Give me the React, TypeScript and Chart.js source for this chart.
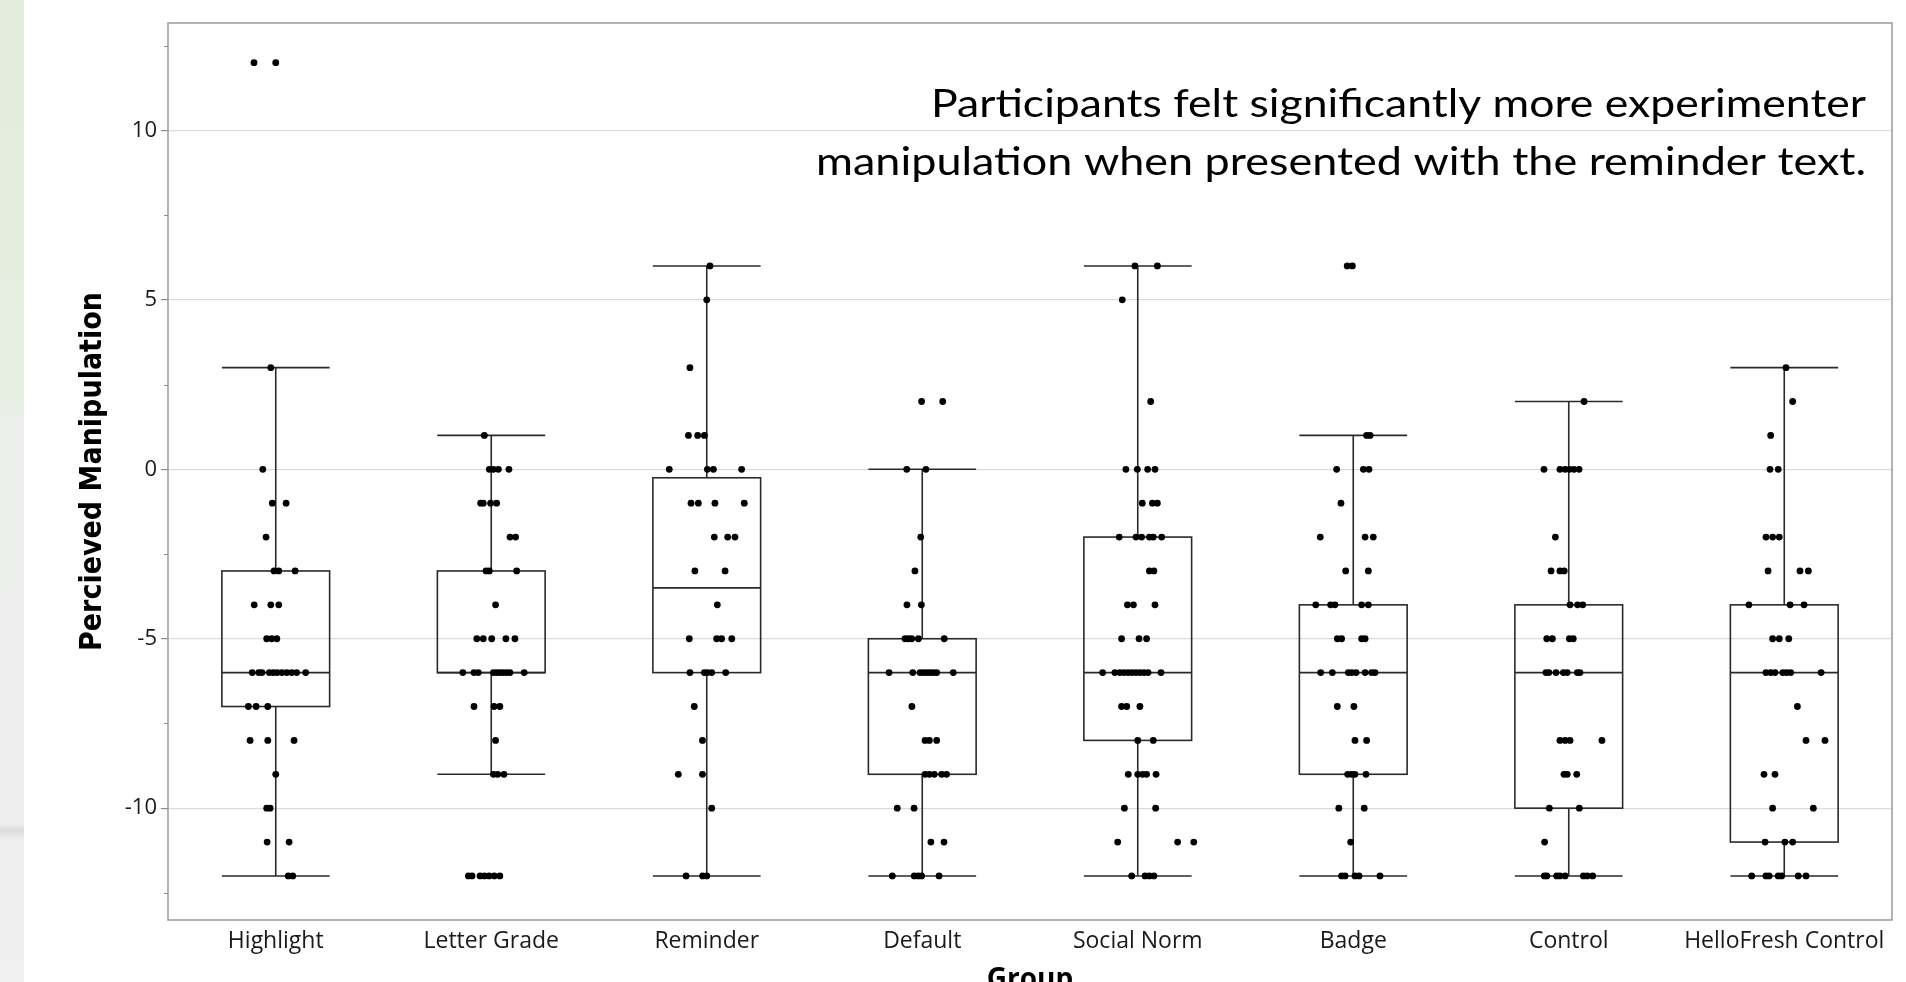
import React, { useEffect, useRef } from 'react';
import { Chart, registerables } from 'chart.js';

Chart.register(...registerables);

// ---------- data ----------
const CATEGORIES = ['Highlight', 'Letter Grade', 'Reminder', 'Default', 'Social Norm', 'Badge', 'Control', 'HelloFresh Control'];
const Y_TICKS = [-12.5, -10, -7.5, -5, -2.5, 0, 2.5, 5, 7.5, 10, 12.5];
const Y_MIN = -13.3;
const Y_MAX = 13.17;

// box statistics per group
const Q1 = [-7, -6, -6, -9, -8, -9, -10, -11];
const MEDIAN = [-6, -6, -3.5, -6, -6, -6, -6, -6];
const Q3 = [-3, -3, -0.25, -5, -2, -4, -4, -4];
const WHISKER_LO = [-12, -9, -12, -12, -12, -12, -12, -12];
const WHISKER_HI = [3, 1, 6, 0, 6, 1, 2, 3];

// raw points: [value, horizontal jitter in category units]
const HIGHLIGHT: [number, number][] = [
  [12, -0.101], [12, 0], [3, -0.023], [0, -0.06], [-1, -0.016], [-1, 0.048], [-2, -0.045],
  [-3, -0.008], [-3, 0.014], [-3, 0.09], [-4, -0.1], [-4, -0.023], [-4, 0.014],
  [-5, -0.042], [-5, -0.019], [-5, 0.005],
  [-6, -0.109], [-6, -0.079], [-6, -0.064], [-6, -0.03], [-6, -0.011], [-6, 0.007], [-6, 0.029], [-6, 0.051], [-6, 0.074], [-6, 0.097], [-6, 0.139],
  [-7, -0.127], [-7, -0.091], [-7, -0.037], [-8, -0.119], [-8, -0.037], [-8, 0.085], [-9, 0],
  [-10, -0.042], [-10, -0.026], [-11, -0.04], [-11, 0.062], [-12, 0.058], [-12, 0.079],
];
const LETTER_GRADE: [number, number][] = [
  [1, -0.032], [0, -0.009], [0, 0.01], [0, 0.033], [0, 0.082],
  [-1, -0.049], [-1, -0.037], [-1, -0.003], [-1, 0.025], [-2, 0.087], [-2, 0.113],
  [-3, -0.024], [-3, -0.009], [-3, 0.118], [-4, 0.02],
  [-5, -0.067], [-5, -0.037], [-5, 0.002], [-5, 0.068], [-5, 0.11],
  [-6, -0.132], [-6, -0.08], [-6, -0.06], [-6, 0.01], [-6, 0.025], [-6, 0.04], [-6, 0.056], [-6, 0.072], [-6, 0.087], [-6, 0.153],
  [-7, -0.08], [-7, 0.013], [-7, 0.04], [-8, 0.02], [-9, 0.01], [-9, 0.03], [-9, 0.059],
  [-12, -0.106], [-12, -0.089], [-12, -0.052], [-12, -0.032], [-12, -0.01], [-12, 0.014], [-12, 0.04],
];
const REMINDER: [number, number][] = [
  [6, 0.015], [5, 0], [3, -0.078], [1, -0.085], [1, -0.042], [1, -0.011],
  [0, -0.174], [0, 0.003], [0, 0.031], [0, 0.162],
  [-1, -0.073], [-1, -0.039], [-1, 0.038], [-1, 0.174], [-2, 0.035], [-2, 0.097], [-2, 0.131],
  [-3, -0.055], [-3, 0.085], [-4, 0.049], [-5, -0.081], [-5, 0.046], [-5, 0.069], [-5, 0.116],
  [-6, -0.078], [-6, -0.011], [-6, 0.003], [-6, 0.023], [-6, 0.088],
  [-7, -0.058], [-8, -0.02], [-9, -0.132], [-9, -0.02], [-10, 0.023], [-12, -0.096], [-12, -0.019], [-12, 0],
];
const DEFAULT_GROUP: [number, number][] = [
  [2, -0.003], [2, 0.095], [0, -0.072], [0, 0.017], [-2, -0.007], [-3, -0.034], [-4, -0.071], [-4, -0.004],
  [-5, -0.08], [-5, -0.065], [-5, -0.049], [-5, -0.018], [-5, 0.102],
  [-6, -0.154], [-6, -0.044], [-6, -0.01], [-6, 0.005], [-6, 0.021], [-6, 0.036], [-6, 0.051], [-6, 0.067], [-6, 0.144],
  [-7, -0.048], [-8, 0.013], [-8, 0.033], [-8, 0.067],
  [-9, 0.013], [-9, 0.033], [-9, 0.056], [-9, 0.09], [-9, 0.113],
  [-10, -0.116], [-10, -0.038], [-11, 0.04], [-11, 0.101],
  [-12, -0.139], [-12, -0.037], [-12, -0.018], [-12, -0.003], [-12, 0.078],
];
const SOCIAL_NORM: [number, number][] = [
  [6, -0.013], [6, 0.091], [5, -0.072], [2, 0.06], [0, -0.055], [0, -0.002], [0, 0.046], [0, 0.08],
  [-1, 0.021], [-1, 0.068], [-1, 0.091],
  [-2, -0.086], [-2, -0.008], [-2, 0.018], [-2, 0.054], [-2, 0.072], [-2, 0.111],
  [-3, 0.054], [-3, 0.075], [-4, -0.048], [-4, -0.02], [-4, 0.08], [-5, -0.075], [-5, 0.006], [-5, 0.041],
  [-6, -0.163], [-6, -0.106], [-6, -0.083], [-6, -0.064], [-6, -0.045], [-6, -0.027], [-6, -0.008], [-6, 0.01], [-6, 0.029], [-6, 0.048], [-6, 0.108],
  [-7, -0.075], [-7, -0.051], [-7, 0.01], [-8, 0], [-8, 0.072],
  [-9, -0.044], [-9, 0], [-9, 0.023], [-9, 0.041], [-9, 0.085],
  [-10, -0.062], [-10, 0.083], [-11, -0.093], [-11, 0.185], [-11, 0.26],
  [-12, -0.028], [-12, 0.034], [-12, 0.054], [-12, 0.075],
];
const BADGE: [number, number][] = [
  [6, -0.028], [6, -0.004], [1, 0.062], [1, 0.078], [0, -0.077], [0, 0.047], [0, 0.073], [-1, -0.057],
  [-2, -0.153], [-2, 0.055], [-2, 0.093], [-3, -0.035], [-3, 0.07],
  [-4, -0.174], [-4, -0.105], [-4, -0.085], [-4, 0.039], [-4, 0.07],
  [-5, -0.074], [-5, -0.054], [-5, 0.039], [-5, 0.055],
  [-6, -0.151], [-6, -0.097], [-6, -0.023], [-6, -0.007], [-6, 0.013], [-6, 0.055], [-6, 0.085], [-6, 0.101],
  [-7, -0.074], [-7, 0.003], [-8, 0.008], [-8, 0.062],
  [-9, -0.026], [-9, -0.007], [-9, 0.008], [-9, 0.059], [-10, -0.067], [-10, 0.051], [-11, -0.012],
  [-12, -0.054], [-12, -0.038], [-12, 0.008], [-12, 0.027], [-12, 0.124],
];
const CONTROL: [number, number][] = [
  [2, 0.071], [0, -0.115], [0, -0.041], [0, -0.017], [0, 0.003], [0, 0.024], [0, 0.048],
  [-2, -0.062], [-3, -0.082], [-3, -0.041], [-3, -0.021], [-4, 0.006], [-4, 0.041], [-4, 0.065],
  [-5, -0.102], [-5, -0.076], [-5, 0.003], [-5, 0.021],
  [-6, -0.106], [-6, -0.092], [-6, -0.059], [-6, -0.025], [-6, -0.007], [-6, 0.04], [-6, 0.052],
  [-8, -0.041], [-8, -0.017], [-8, 0.006], [-8, 0.154], [-9, -0.022], [-9, -0.007], [-9, 0.037],
  [-10, -0.09], [-10, 0.049], [-11, -0.112],
  [-12, -0.113], [-12, -0.102], [-12, -0.056], [-12, -0.041], [-12, -0.017], [-12, 0.068], [-12, 0.086], [-12, 0.111],
];
const HELLOFRESH_CONTROL: [number, number][] = [
  [3, 0.008], [2, 0.039], [1, -0.063], [0, -0.066], [0, -0.028],
  [-2, -0.085], [-2, -0.054], [-2, -0.023], [-3, -0.075], [-3, 0.073], [-3, 0.112],
  [-4, -0.164], [-4, 0.027], [-4, 0.092], [-5, -0.054], [-5, -0.023], [-5, 0.021],
  [-6, -0.085], [-6, -0.063], [-6, -0.043], [-6, -0.007], [-6, 0.011], [-6, 0.03], [-6, 0.171],
  [-7, 0.061], [-8, 0.101], [-8, 0.189], [-9, -0.094], [-9, -0.043], [-10, -0.054], [-10, 0.135],
  [-11, -0.089], [-11, 0.003], [-11, 0.039],
  [-12, -0.151], [-12, -0.085], [-12, -0.07], [-12, -0.028], [-12, -0.012], [-12, 0.065], [-12, 0.101],
];
const GROUP_POINTS = [HIGHLIGHT, LETTER_GRADE, REMINDER, DEFAULT_GROUP, SOCIAL_NORM, BADGE, CONTROL, HELLOFRESH_CONTROL];

const NOTE_LINES = [
  'Participants felt significantly more experimenter',
  'manipulation when presented with the reminder text.',
];

// ---------- styles ----------
const BOX_HALF = 0.25;
const NOTE_RIGHT = 1866;
const NOTE_BASELINES = [117, 175];
const NOTE_WIDTHS = [935, 1050];

const boxPlugin = {
  id: 'boxPlot',
  beforeDatasetsDraw(chart: any) {
    const { ctx, scales } = chart;
    const x = scales.x;
    const y = scales.y;
    ctx.save();
    ctx.strokeStyle = '#2a2a2a';
    ctx.lineWidth = 1.6;
    const line = (x1: number, y1: number, x2: number, y2: number) => {
      ctx.beginPath();
      ctx.moveTo(x1, y1);
      ctx.lineTo(x2, y2);
      ctx.stroke();
    };
    CATEGORIES.forEach((_, i) => {
      const xl = x.getPixelForValue(i - BOX_HALF);
      const xr = x.getPixelForValue(i + BOX_HALF);
      const xc = x.getPixelForValue(i);
      const yq1 = y.getPixelForValue(Q1[i]);
      const yq3 = y.getPixelForValue(Q3[i]);
      const ym = y.getPixelForValue(MEDIAN[i]);
      const ylo = y.getPixelForValue(WHISKER_LO[i]);
      const yhi = y.getPixelForValue(WHISKER_HI[i]);
      ctx.strokeRect(xl, yq3, xr - xl, yq1 - yq3);
      line(xl, ym, xr, ym);
      if (yhi < yq3) line(xc, yq3, xc, yhi);
      if (ylo > yq1) line(xc, yq1, xc, ylo);
      line(xl, yhi, xr, yhi);
      line(xl, ylo, xr, ylo);
    });
    ctx.restore();
  },
  afterDraw(chart: any) {
    const { ctx, chartArea, scales } = chart;
    const y = scales.y;
    ctx.save();
    // frame
    ctx.strokeStyle = '#9a9a9a';
    ctx.lineWidth = 1.5;
    ctx.strokeRect(chartArea.left, chartArea.top, chartArea.right - chartArea.left, chartArea.bottom - chartArea.top);
    // minor ticks
    ctx.strokeStyle = '#8a8a8a';
    ctx.lineWidth = 1;
    Y_TICKS.forEach((v) => {
      if (v % 5 !== 0) {
        const py = Math.round(y.getPixelForValue(v)) + 0.5;
        ctx.beginPath();
        ctx.moveTo(chartArea.left - 4, py);
        ctx.lineTo(chartArea.left, py);
        ctx.stroke();
      }
    });
    // annotation text
    ctx.fillStyle = '#000';
    ctx.font = '39px Lato, "Open Sans", sans-serif';
    ctx.textAlign = 'right';
    ctx.textBaseline = 'alphabetic';
    NOTE_LINES.forEach((t, k) => {
      const w = ctx.measureText(t).width;
      ctx.save();
      ctx.translate(NOTE_RIGHT, NOTE_BASELINES[k]);
      ctx.scale(NOTE_WIDTHS[k] / w, 1);
      ctx.fillText(t, 0, 0);
      ctx.restore();
    });
    ctx.restore();
  },
};

export default function App() {
  const ref = useRef<HTMLCanvasElement | null>(null);

  useEffect(() => {
    if (!ref.current) return;
    const datasets = GROUP_POINTS.map((pts, i) => ({
      type: 'scatter' as const,
      label: CATEGORIES[i],
      data: pts.map(([v, dx]) => ({ x: i + dx, y: v })),
      backgroundColor: '#000',
      borderWidth: 0,
      pointRadius: 3.4,
      pointHoverRadius: 3.4,
      showLine: false,
    }));
    const chart = new Chart(ref.current, {
      type: 'scatter',
      data: { datasets },
      options: {
        responsive: false,
        animation: false,
        devicePixelRatio: 1,
        events: [],
        layout: { padding: { left: 0, top: 23, right: 14, bottom: 0 } },
        plugins: { legend: { display: false }, tooltip: { enabled: false } },
        scales: {
          x: {
            type: 'linear',
            min: -0.5,
            max: 7.5,
            afterBuildTicks: (s: any) => {
              s.ticks = CATEGORIES.map((_, i) => ({ value: i }));
            },
            afterFit: (s: any) => {
              s.height = 80;
            },
            grid: { display: false, drawTicks: false },
            border: { display: false },
            ticks: {
              autoSkip: false,
              maxRotation: 0,
              padding: 8,
              color: '#1a1a1a',
              font: { family: '"Open Sans", "Noto Sans", sans-serif', size: 23 },
              callback: (v: any) => CATEGORIES[Math.round(Number(v))] ?? '',
            },
            title: {
              display: true,
              text: 'Group',
              color: '#000',
              font: { family: '"Open Sans", "Noto Sans", sans-serif', size: 28, weight: 'bold' },
              padding: { top: 0, bottom: 3 },
            },
          },
          y: {
            type: 'linear',
            min: Y_MIN,
            max: Y_MAX,
            afterBuildTicks: (s: any) => {
              s.ticks = Y_TICKS.map((v) => ({ value: v }));
            },
            afterFit: (s: any) => {
              s.width = 168;
            },
            grid: {
              color: (c: any) => (c.tick && c.tick.value % 5 === 0 ? '#dcdcdc' : 'rgba(0,0,0,0)'),
              tickColor: (c: any) => (c.tick && c.tick.value % 5 === 0 ? '#8a8a8a' : 'rgba(0,0,0,0)'),
              tickLength: 7,
              lineWidth: 1.2,
            },
            border: { display: false },
            ticks: {
              padding: 4,
              color: '#1a1a1a',
              font: { family: '"Open Sans", "Noto Sans", sans-serif', size: 22 },
              callback: (v: any) => (Number(v) % 5 === 0 ? String(v) : ''),
            },
            title: {
              display: true,
              text: 'Percieved Manipulation',
              color: '#000',
              font: { family: '"DejaVu Sans Condensed", "Liberation Sans Narrow", sans-serif', size: 30, weight: 'bold' },
              padding: { top: 75, bottom: 0 },
            },
          },
        },
      },
      plugins: [boxPlugin],
    } as any);
    return () => chart.destroy();
  }, []);

  return (
    <div style={{ position: 'absolute', left: 0, top: 0, width: 1906, height: 982, overflow: 'hidden', background: '#fff' }}>
      <div
        style={{
          position: 'absolute',
          left: 0,
          top: 0,
          width: 24,
          height: 982,
          background: 'linear-gradient(to bottom, #e2ecdc 0%, #e6efe1 40%, #ecefec 43%, #ededed 84%, #dcdcdc 84.5%, #efefef 85.5%, #f0f0f0 100%)',
        }}
      />
      <canvas ref={ref} width={1906} height={1000} style={{ position: 'absolute', left: 0, top: 0, display: 'block' }} />
    </div>
  );
}
